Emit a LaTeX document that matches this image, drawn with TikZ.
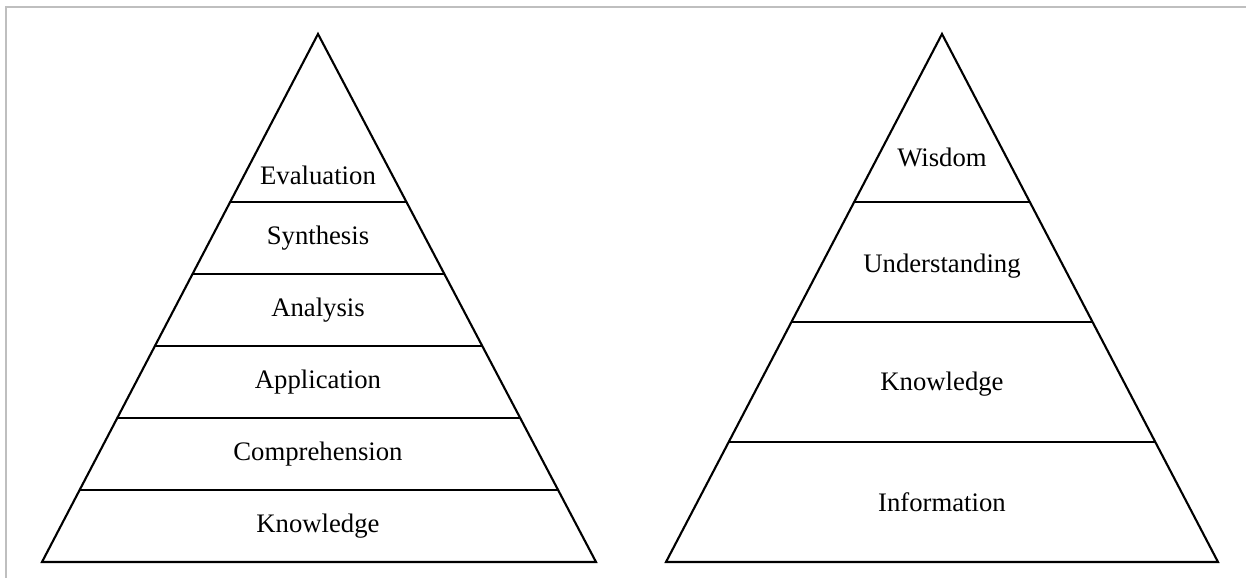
\documentclass[tikz,border=0pt]{standalone}
\usepackage{fontspec}
\setmainfont{Liberation Serif}
\usetikzlibrary{calc}
\tikzset{
  level/.style={line width=0.6pt},
  lbl/.style={font=\fontsize{7.6}{9}\selectfont, inner sep=0pt}
}
\begin{document}
\begin{tikzpicture}
                \useasboundingbox (0,0) rectangle (12.46,5.78);
                % frame
                \draw[gray!50,line width=0.6pt] (0.06,0) -- (0.06,5.71) -- (12.46,5.71);
                % Bloom
                \coordinate (LT) at (3.18,5.44);
                \coordinate (LL) at (0.42,0.16);
                \coordinate (LR) at (5.96,0.16);
                \draw[level] (LL) -- (LT) -- (LR) -- cycle;
                \foreach \t in {0.1364,0.2727,0.4091,0.5455,0.6818}
                    \draw[level] ($(LL)!\t!(LT)$) -- ($(LR)!\t!(LT)$);
                \node[lbl](EV) at (3.18,4.03) {Evaluation};
                \node[lbl](SY) at (3.18,3.40) {Synthesis};
                \node[lbl](AN) at (3.18,2.68) {Analysis};
                \node[lbl](AP) at (3.18,1.96) {Application};
                \node[lbl](CO) at (3.18,1.24) {Comprehension};
                \node[lbl](KN) at (3.18,0.52) {Knowledge};
                % DIKW
                \coordinate (RT) at (9.42,5.44);
                \coordinate (RL) at (6.66,0.16);
                \coordinate (RR) at (12.18,0.16);
                \draw[level] (RL) -- (RT) -- (RR) -- cycle;
                \foreach \t in {0.2273,0.4545,0.6818}
                    \draw[level] ($(RL)!\t!(RT)$) -- ($(RR)!\t!(RT)$);
                \node[lbl](WI) at (9.42,4.21) {Wisdom};
                \node[lbl](UN) at (9.42,3.12) {Understanding};
                \node[lbl](KW) at (9.42,1.94) {Knowledge};
                \node[lbl](IN) at (9.42,0.76) {Information};
            \end{tikzpicture}
\end{document}
